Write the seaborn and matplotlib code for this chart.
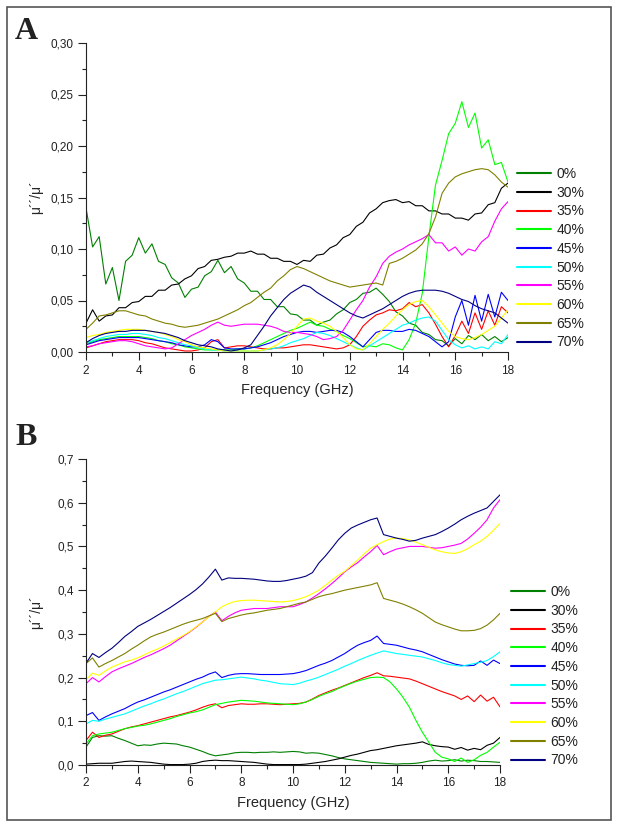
import numpy as np
import pandas as pd
import seaborn as sns
import matplotlib.pyplot as plt
from matplotlib.patches import Rectangle
from matplotlib.ticker import MultipleLocator

# Frequency grid (GHz), 0.25 GHz step
freq = np.arange(2.0, 18.01, 0.25)

samples = ["0%", "30%", "35%", "40%", "45%", "50%", "55%", "60%", "65%", "70%"]
colors = ["#008000", "#000000", "#ff0000", "#00ff00", "#0000ff",
          "#00ffff", "#ff00ff", "#ffff00", "#808000", "#000080"]

# Panel A values (mu''/mu')
a_0 = [.140, .102, .112, .066, .082, .050, .088, .094, .111, .096, .105, .088,
       .085, .072, .067, .053, .061, .063, .074, .078, .089, .077, .083, .071,
       .067, .059, .059, .051, .051, .044, .044, .037, .036, .031, .031, .026,
       .029, .031, .037, .041, .048, .051, .057, .058, .062, .056, .049, .039,
       .035, .028, .026, .019, .017, .012, .011, .006, .013, .008, .016, .012,
       .017, .011, .015, .010, .014]
a_30 = [.028, .041, .030, .035, .036, .043, .043, .048, .049, .054, .054, .060,
        .060, .065, .066, .071, .074, .081, .083, .089, .090, .092, .093, .096,
        .096, .098, .095, .095, .091, .091, .088, .088, .085, .089, .088, .094,
        .095, .101, .104, .111, .114, .122, .126, .135, .139, .145, .147, .148,
        .145, .146, .142, .142, .137, .137, .134, .134, .130, .130, .128, .134,
        .135, .143, .145, .159, .164]
a_35 = [.004, .006, .008, .010, .011, .012, .012, .012, .011, .009, .008, .006,
        .004, .003, .002, .001, .001, .002, .004, .010, .012, .004, .005, .006,
        .006, .005, .004, .003, .003, .004, .004, .005, .006, .007, .007, .006,
        .005, .004, .003, .004, .007, .015, .025, .031, .036, .038, .041, .040,
        .042, .048, .044, .046, .038, .027, .015, .005, .016, .030, .018, .038,
        .022, .040, .026, .044, .038]
a_40 = [.008, .010, .012, .013, .014, .015, .015, .015, .015, .014, .013, .011,
        .010, .008, .007, .005, .004, .003, .002, .002, .002, .002, .002, .003,
        .003, .004, .006, .009, .012, .015, .018, .021, .023, .026, .029, .026,
        .025, .022, .020, .016, .013, .009, .005, .006, .005, .008, .007, .004,
        .002, .012, .028, .057, .112, .162, .186, .212, .222, .243, .218, .232,
        .198, .206, .182, .184, .165]
a_45 = [.007, .009, .011, .012, .013, .014, .014, .014, .014, .013, .012, .011,
        .010, .009, .007, .006, .005, .005, .007, .012, .010, .004, .003, .003,
        .003, .004, .005, .007, .009, .012, .015, .017, .019, .020, .020, .019,
        .020, .021, .021, .019, .015, .010, .005, .012, .019, .021, .021, .020,
        .020, .022, .021, .018, .015, .010, .005, .010, .034, .050, .026, .055,
        .030, .056, .034, .058, .050]
a_50 = [.009, .011, .013, .015, .016, .017, .017, .018, .018, .017, .016, .014,
        .013, .011, .009, .007, .006, .004, .003, .002, .002, .001, .001, .001,
        .001, .001, .001, .002, .003, .004, .006, .009, .011, .013, .016, .019,
        .018, .016, .013, .010, .007, .004, .002, .006, .010, .014, .018, .022,
        .026, .028, .031, .033, .034, .030, .021, .012, .007, .004, .006, .003,
        .005, .003, .010, .008, .017]
a_55 = [.005, .006, .008, .009, .010, .011, .011, .010, .008, .006, .005, .004,
        .003, .004, .008, .012, .016, .019, .022, .026, .029, .026, .025, .026,
        .027, .027, .027, .026, .025, .023, .020, .019, .019, .018, .017, .015,
        .012, .013, .015, .021, .031, .041, .050, .063, .073, .086, .093, .097,
        .100, .104, .107, .110, .114, .106, .106, .098, .102, .094, .100, .098,
        .107, .112, .127, .139, .146]
a_60 = [.014, .016, .017, .019, .020, .021, .022, .022, .022, .021, .020, .019,
        .017, .015, .012, .010, .007, .005, .004, .003, .002, .001, .001, .001,
        .001, .001, .001, .002, .004, .007, .012, .018, .025, .032, .033, .030,
        .028, .025, .020, .014, .007, .003, .002, .008, .015, .022, .028, .035,
        .041, .046, .049, .050, .044, .036, .028, .020, .015, .013, .012, .014,
        .017, .021, .025, .033, .041]
a_65 = [.022, .028, .035, .036, .038, .040, .040, .038, .036, .035, .032, .030,
        .028, .027, .025, .024, .025, .026, .028, .030, .032, .035, .038, .041,
        .045, .048, .053, .058, .062, .069, .074, .080, .083, .081, .078, .075,
        .072, .069, .067, .065, .063, .064, .065, .066, .067, .065, .086, .088,
        .091, .095, .099, .105, .115, .131, .154, .164, .170, .173, .175, .177,
        .178, .177, .172, .165, .160]
a_70 = [.009, .013, .016, .018, .019, .020, .020, .021, .021, .021, .020, .019,
        .018, .016, .014, .011, .009, .007, .006, .005, .003, .002, .001, .002,
        .004, .007, .016, .025, .035, .043, .051, .057, .061, .065, .063, .058,
        .054, .050, .046, .042, .038, .035, .033, .036, .039, .042, .046, .050,
        .054, .057, .059, .060, .060, .060, .059, .057, .054, .051, .049, .045,
        .042, .040, .038, .033, .028]

# Panel B values (mu''/mu')
b_0 = [.041, .063, .067, .066, .067, .061, .056, .050, .044, .046, .045, .048,
       .050, .049, .048, .044, .041, .036, .031, .025, .021, .023, .025, .028,
       .029, .029, .028, .029, .029, .030, .029, .030, .031, .030, .027, .028,
       .027, .024, .021, .017, .014, .012, .010, .008, .006, .005, .004, .003,
       .002, .003, .003, .004, .006, .009, .011, .009, .010, .012, .009, .011,
       .010, .008, .008, .007, .006]
b_30 = [.002, .003, .004, .004, .004, .006, .008, .009, .008, .007, .006, .004,
        .002, .001, .001, .001, .002, .004, .008, .010, .011, .010, .010, .009,
        .008, .007, .006, .004, .002, .001, .001, .001, .001, .001, .002, .004,
        .006, .008, .011, .014, .018, .022, .025, .029, .033, .035, .038, .041,
        .044, .046, .048, .050, .053, .047, .044, .042, .041, .036, .040, .034,
        .038, .035, .045, .050, .063]
b_35 = [.056, .075, .063, .068, .071, .077, .083, .087, .090, .094, .098, .102,
        .106, .110, .113, .117, .121, .126, .132, .137, .140, .131, .136, .138,
        .140, .139, .139, .140, .140, .139, .138, .139, .140, .141, .144, .151,
        .159, .165, .171, .176, .182, .188, .194, .200, .205, .211, .204, .203,
        .201, .199, .197, .192, .186, .180, .174, .168, .163, .158, .150, .158,
        .145, .160, .146, .155, .133]
b_40 = [.048, .067, .071, .073, .075, .079, .083, .086, .089, .091, .094, .098,
        .102, .106, .111, .115, .119, .122, .126, .132, .138, .141, .144, .146,
        .148, .147, .146, .144, .142, .141, .140, .139, .138, .140, .144, .150,
        .157, .163, .168, .175, .181, .187, .192, .196, .200, .201, .200, .190,
        .174, .155, .132, .102, .075, .052, .029, .018, .014, .008, .016, .006,
        .012, .022, .029, .041, .052]
b_45 = [.113, .120, .102, .110, .117, .123, .129, .137, .144, .149, .155, .161,
        .167, .172, .178, .184, .190, .196, .201, .208, .213, .200, .205, .208,
        .209, .209, .208, .207, .207, .207, .207, .208, .209, .212, .216, .222,
        .228, .233, .239, .247, .255, .265, .274, .280, .285, .295, .278, .276,
        .274, .270, .266, .263, .259, .253, .247, .241, .236, .231, .228, .227,
        .228, .238, .228, .240, .232]
b_50 = [.094, .102, .100, .105, .109, .113, .117, .123, .129, .135, .140, .146,
        .151, .157, .163, .168, .174, .180, .186, .190, .194, .195, .197, .199,
        .201, .199, .197, .194, .192, .189, .186, .185, .184, .187, .192, .196,
        .201, .207, .213, .219, .226, .232, .239, .245, .251, .256, .261, .258,
        .255, .253, .251, .249, .247, .243, .239, .234, .230, .228, .226, .229,
        .232, .235, .239, .248, .259]
b_55 = [.186, .200, .190, .202, .213, .220, .226, .232, .239, .246, .252, .259,
        .266, .274, .284, .294, .304, .315, .327, .340, .350, .330, .340, .348,
        .354, .356, .358, .358, .358, .360, .362, .362, .362, .367, .373, .382,
        .392, .403, .415, .428, .442, .453, .463, .476, .488, .502, .481, .488,
        .494, .497, .500, .500, .500, .498, .496, .497, .500, .503, .507, .517,
        .530, .544, .561, .588, .607]
b_60 = [.195, .210, .205, .215, .224, .230, .236, .240, .245, .252, .259, .265,
        .272, .280, .288, .296, .305, .316, .327, .339, .350, .362, .369, .374,
        .376, .377, .377, .376, .375, .374, .373, .374, .376, .380, .385, .392,
        .400, .411, .423, .434, .443, .456, .469, .483, .496, .504, .511, .517,
        .519, .518, .515, .510, .504, .498, .492, .488, .485, .484, .488, .495,
        .504, .512, .523, .537, .553]
b_65 = [.232, .245, .224, .232, .239, .247, .255, .265, .274, .284, .293, .299,
        .304, .310, .316, .322, .327, .331, .335, .341, .347, .328, .335, .339,
        .343, .346, .348, .351, .354, .356, .358, .362, .366, .370, .373, .379,
        .385, .389, .392, .396, .400, .403, .406, .409, .412, .417, .381, .377,
        .373, .368, .362, .355, .347, .337, .327, .321, .316, .311, .307, .307,
        .308, .312, .320, .332, .347]
b_70 = [.233, .255, .246, .257, .267, .280, .294, .305, .317, .325, .333, .342,
        .351, .360, .370, .380, .390, .401, .414, .430, .448, .423, .428, .427,
        .427, .426, .425, .423, .421, .420, .420, .422, .425, .428, .432, .440,
        .462, .478, .496, .515, .530, .542, .549, .555, .561, .565, .527, .523,
        .519, .516, .512, .514, .519, .523, .527, .534, .542, .551, .561, .569,
        .576, .582, .588, .603, .618]

a_yticks = [0.00, 0.05, 0.10, 0.15, 0.20, 0.25, 0.30]
a_ylabels = ["0,00", "0,05", "0,10", "0,15", "0,20", "0,25", "0,30"]
b_yticks = [0.0, 0.1, 0.2, 0.3, 0.4, 0.5, 0.6, 0.7]
b_ylabels = ["0,0", "0,1", "0,2", "0,3", "0,4", "0,5", "0,6", "0,7"]
xticks = [2, 4, 6, 8, 10, 12, 14, 16, 18]


def to_long(series):
    df = pd.DataFrame(dict(zip(samples, series)), index=freq)
    df.index.name = "freq"
    return df.reset_index().melt(id_vars="freq", var_name="sample", value_name="val")


panel_a = to_long([a_0, a_30, a_35, a_40, a_45, a_50, a_55, a_60, a_65, a_70])
panel_b = to_long([b_0, b_30, b_35, b_40, b_45, b_50, b_55, b_60, b_65, b_70])

sns.set_style("ticks")
plt.rcParams["font.family"] = ["Liberation Sans", "DejaVu Sans"]
plt.rcParams["text.color"] = "#222222"

fig = plt.figure(figsize=(6.17, 8.26), dpi=100)
W, H = 617, 826


def make_axes(left, top, right, bottom):
    return fig.add_axes([left / W, 1 - bottom / H, (right - left) / W, (bottom - top) / H])


ax_a = make_axes(86, 43, 508, 352)
ax_b = make_axes(86, 459, 500, 765)

palette = dict(zip(samples, colors))

for ax, data, ymax, yt, yl, minor, leg_xy in [
    (ax_a, panel_a, 0.30, a_yticks, a_ylabels, 0.025, (517, 167)),
    (ax_b, panel_b, 0.7, b_yticks, b_ylabels, 0.05, (511, 585)),
]:
    sns.lineplot(data=data, x="freq", y="val", hue="sample", palette=palette,
                 hue_order=samples, estimator=None, linewidth=0.8, ax=ax)
    ax.set_xlim(2, 18)
    ax.set_ylim(0, ymax)
    ax.set_xticks(xticks)
    ax.set_xticklabels([str(t) for t in xticks])
    ax.xaxis.set_minor_locator(MultipleLocator(1))
    ax.set_yticks(yt)
    ax.set_yticklabels(yl)
    ax.yaxis.set_minor_locator(MultipleLocator(minor))
    ax.tick_params(which="major", direction="out", length=6, width=0.8,
                   labelsize=8.5, pad=3, colors="#222222")
    ax.tick_params(which="minor", direction="out", length=3, width=0.8, colors="#222222")
    sns.despine(ax=ax)
    for s in ["left", "bottom"]:
        ax.spines[s].set_linewidth(0.8)
        ax.spines[s].set_color("#222222")
    ax.set_xlabel("Frequency (GHz)", fontsize=10.5)
    ax.set_ylabel("μ´´/μ´", fontsize=10)
    x0, x1 = ax.get_position().x0 * W, ax.get_position().x1 * W
    ax.yaxis.set_label_coords((36 - x0) / (x1 - x0), 0.5)
    ax.xaxis.set_label_coords(0.5, -0.123)
    ax.xaxis.label.set_va("center")
    ax.yaxis.label.set_va("center")
    sns.move_legend(ax, "upper left", bbox_to_anchor=(leg_xy[0] / W, 1 - leg_xy[1] / H),
                    bbox_transform=fig.transFigure, frameon=False, title=None,
                    fontsize=10, handlelength=2.45, handletextpad=0.4,
                    labelspacing=0.34, borderpad=0, borderaxespad=0)
    for line in ax.get_legend().get_lines():
        line.set_linewidth(1.5)

fig.text(15 / W, 1 - 39 / H, "A", fontsize=23, fontweight="bold",
         family="Liberation Serif", va="baseline")
fig.text(15 / W, 1 - 445 / H, "B", fontsize=23, fontweight="bold",
         family="Liberation Serif", va="baseline")

fig.add_artist(Rectangle((7 / W, 6 / H), 604 / W, 813 / H, transform=fig.transFigure,
                         fill=False, linewidth=1.2, edgecolor="#555555"))

fig.savefig("out.png", dpi=100)
